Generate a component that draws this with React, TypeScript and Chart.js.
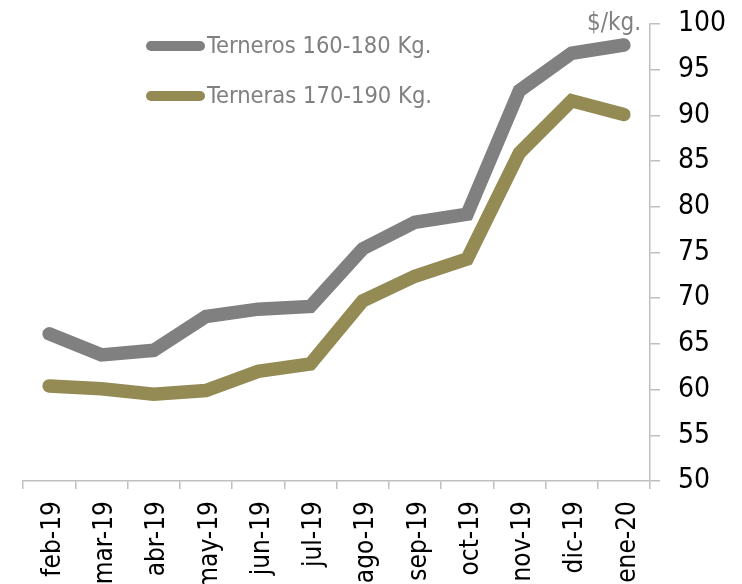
import React, { useEffect, useRef } from "react";
import { Chart, registerables } from "chart.js";

Chart.register(...registerables);

const categories = ["feb-19", "mar-19", "abr-19", "may-19", "jun-19", "jul-19", "ago-19", "sep-19", "oct-19", "nov-19", "dic-19", "ene-20"];
const terneros = [66.1, 63.8, 64.3, 68.0, 68.8, 69.1, 75.4, 78.3, 79.2, 92.7, 96.8, 97.7];
const terneras = [60.4, 60.1, 59.5, 59.9, 62.0, 62.8, 69.7, 72.4, 74.3, 85.9, 91.6, 90.1];
const seriesNames = ["Terneros 160-180 Kg.", "Terneras 170-190 Kg."];
const seriesColors = ["#808080", "#948A54"];
const unitLabel = "$/kg.";
const FONT = "'DejaVu Sans Condensed', 'DejaVu Sans', sans-serif";

const overlayPlugin = {
  id: "overlay",
  afterDraw(chart: any) {
    const ctx = chart.ctx;
    ctx.save();
    // legend
    chart.data.datasets.forEach((ds: any, i: number) => {
      const y = 46 + i * 50;
      ctx.strokeStyle = ds.borderColor;
      ctx.lineWidth = 10;
      ctx.lineCap = "round";
      ctx.beginPath();
      ctx.moveTo(151, y);
      ctx.lineTo(200, y);
      ctx.stroke();
      ctx.fillStyle = "#808080";
      ctx.font = `23.5px ${FONT}`;
      ctx.textBaseline = "middle";
      ctx.textAlign = "left";
      ctx.fillText(ds.label, 207, y + 1);
    });
    // unit label
    const yScale = chart.scales.y;
    ctx.fillStyle = "#808080";
    ctx.font = `24px ${FONT}`;
    ctx.textAlign = "right";
    ctx.textBaseline = "middle";
    ctx.fillText(unitLabel, yScale.left - 9, chart.chartArea.top);
    ctx.restore();
  },
};

export default function App() {
  const ref = useRef<HTMLCanvasElement>(null);
  useEffect(() => {
    if (!ref.current) return;
    const chart = new Chart(ref.current, {
      type: "line",
      data: {
        labels: categories,
        datasets: [
          {
            label: seriesNames[0],
            data: terneros,
            borderColor: seriesColors[0],
            backgroundColor: seriesColors[0],
            borderWidth: 13.5,
            borderCapStyle: "round",
            borderJoinStyle: "miter",
            pointRadius: 0,
            tension: 0,
          },
          {
            label: seriesNames[1],
            data: terneras,
            borderColor: seriesColors[1],
            backgroundColor: seriesColors[1],
            borderWidth: 13.5,
            borderCapStyle: "round",
            borderJoinStyle: "miter",
            pointRadius: 0,
            tension: 0,
          },
        ],
      },
      options: {
        animation: false,
        responsive: false,
        maintainAspectRatio: false,
        layout: { padding: { left: 23, top: 24, right: 0, bottom: 0 } },
        plugins: { legend: { display: false }, tooltip: { enabled: false } },
        scales: {
          x: {
            type: "category",
            offset: true,
            grid: {
              offset: true,
              drawOnChartArea: false,
              drawTicks: true,
              tickLength: 8,
              color: "#BFBFBF",
              lineWidth: 1.5,
            },
            border: { color: "#BFBFBF", width: 1.5 },
            ticks: {
              autoSkip: false,
              minRotation: 90,
              maxRotation: 90,
              padding: 12,
              labelOffset: 4,
              color: "#000000",
              font: { family: FONT, size: 26 },
            },
            afterFit(scale: any) {
              scale.height = 103;
              scale.paddingLeft = 0;
              scale.paddingRight = 0;
            },
          },
          y: {
            position: "right",
            min: 50,
            max: 100,
            ticks: {
              stepSize: 5,
              padding: 18,
              color: "#000000",
              font: { family: FONT, size: 28 },
            },
            grid: {
              drawOnChartArea: false,
              drawTicks: true,
              tickLength: 10,
              color: "#BFBFBF",
              lineWidth: 1.5,
            },
            border: { color: "#BFBFBF", width: 1.5 },
            afterFit(scale: any) {
              scale.width = 92;
              scale.paddingTop = 0;
              scale.paddingBottom = 0;
            },
          },
        },
      } as any,
      plugins: [overlayPlugin],
    });
    return () => chart.destroy();
  }, []);
  return (
    <div style={{ position: "fixed", left: 0, top: 0, width: 742, height: 584, background: "#fff" }}>
      <canvas ref={ref} width={742} height={584} style={{ display: "block", width: 742, height: 584 }} />
    </div>
  );
}
